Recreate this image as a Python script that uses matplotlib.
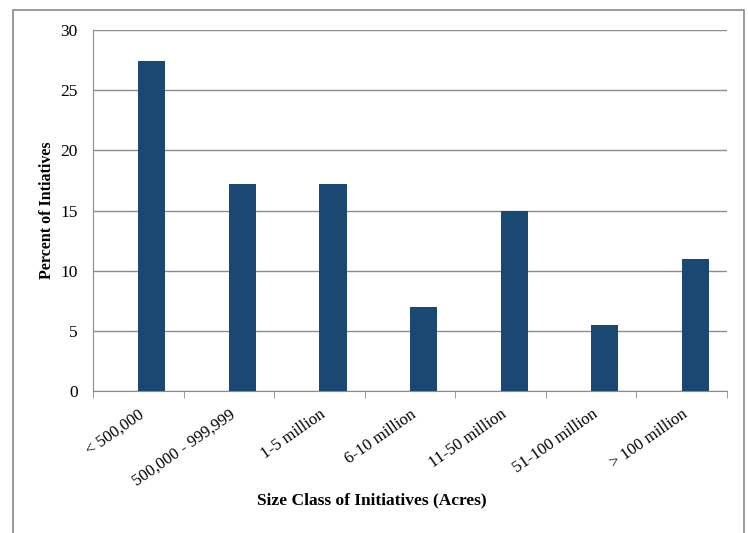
import matplotlib

matplotlib.use("Agg")

import matplotlib.pyplot as plt
import numpy as np
from matplotlib.patches import Rectangle

# size classes and share of initiatives (%)
categories = [
    "< 500,000",
    "500,000 - 999,999",
    "1-5 million",
    "6-10 million",
    "11-50 million",
    "51-100 million",
    "> 100 million",
]
percent = [27.4, 17.2, 17.2, 7.0, 15.0, 5.5, 11.0]
y_ticks = [0, 5, 10, 15, 20, 25, 30]

bar_color = "#1b4872"
grid_color = "#8c8c8c"

plt.rcParams["font.family"] = ["Liberation Serif", "DejaVu Serif"]

fig = plt.figure(figsize=(7.48, 5.33), dpi=100)
ax = fig.add_axes([0.1243, 0.2664, 0.8477, 0.6773])

# outer chart-area frame
fig.patches.append(
    Rectangle((13 / 748, -0.05), (744 - 13) / 748, 1.05 - 10 / 533,
              transform=fig.transFigure, fill=False,
              edgecolor="#8a8a8a", linewidth=1.2)
)

x = np.arange(len(categories))
# bars sit just right of the category centre (excel-style cluster offset)
ax.bar(x, percent, width=0.3, align="edge", color=bar_color, zorder=3)

ax.set_xlim(-0.5, len(categories) - 0.5)
ax.set_ylim(0, 30)
ax.set_yticks(y_ticks)
ax.set_yticklabels([str(v) for v in y_ticks], fontsize=12.5)
ax.tick_params(axis="y", length=0, pad=11)
ax.yaxis.grid(True, color=grid_color, linewidth=1.0, zorder=0)

# category labels at category centres, tick marks between categories
ax.set_xticks(x)
ax.set_xticklabels(categories, rotation=35, ha="right",
                   rotation_mode="anchor", fontsize=12)
ax.tick_params(axis="x", length=0, pad=11)
ax.set_xticks(np.arange(-0.5, len(categories) + 0.5, 1.0), minor=True)
ax.tick_params(axis="x", which="minor", length=5, color=grid_color,
               direction="out")

for side in ["top", "right"]:
    ax.spines[side].set_visible(False)
ax.spines["left"].set_color(grid_color)
ax.spines["bottom"].set_color(grid_color)

ax.set_ylabel("Percent of Intiatives", fontsize=11.5, fontweight="bold",
              labelpad=4)
fig.text(372 / 748, 1 - 500 / 533, "Size Class of Initiatives (Acres)",
         ha="center", va="center", fontsize=12.5, fontweight="bold")

fig.savefig("out.png", dpi=100)
